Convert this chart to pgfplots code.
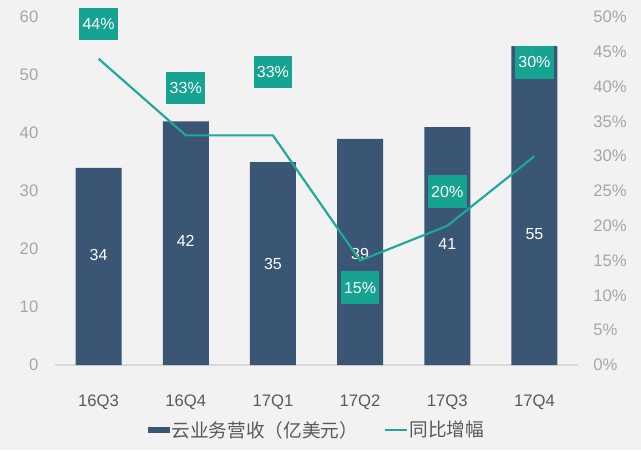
\documentclass[border=0pt]{standalone}
\usepackage{fontspec}
\setmainfont{Liberation Sans}
\newfontfamily\cjk{Noto Sans CJK SC}
\usepackage{pgfplots}
\pgfplotsset{compat=1.18}
\usetikzlibrary{backgrounds,calc}
\definecolor{barc}{HTML}{3A5674}
\definecolor{linec}{HTML}{1DA899}
\definecolor{boxc}{HTML}{17A392}
\definecolor{bgc}{HTML}{F2F2F2}
\definecolor{tickc}{HTML}{A6A6A6}
\definecolor{labc}{HTML}{595959}
\definecolor{basec}{HTML}{D9D9D9}

\pgfplotsset{base/.style={scale only axis, width=392.25pt, height=261pt,
  xmin=-0.5, xmax=5.5, /pgf/number format/assume math mode=true,
  major tick length=0pt, clip=false}}

\begin{document}
\begin{tikzpicture}
\begin{axis}[base, name=main, ymin=0, ymax=60, ytick={0,10,...,60},
  axis x line*=bottom, axis y line*=left,
  x axis line style={draw=basec, line width=0.8pt, -},
  y axis line style={draw=none},
  xtick={0,...,5}, xticklabels={16Q3,16Q4,17Q1,17Q2,17Q3,17Q4},
  xticklabel style={font=\fontsize{12.5}{14}\selectfont, text=labc, anchor=base, yshift=-31pt},
  yticklabel style={font=\fontsize{12.5}{14}\selectfont, text=tickc, xshift=-9pt},
  legend columns=2,
  legend style={at={(0.5,-0.187)}, anchor=center, draw=none, fill=none,
    font=\fontsize{14}{16}\selectfont, text=labc,
    /tikz/every odd column/.style={column sep=0pt},
    /tikz/every even column/.style={column sep=18pt},
    nodes={inner sep=1pt}}]
\addplot[ybar, bar width=34.5pt, bar shift=0pt, fill=barc, draw=none,
  legend image code/.code={\fill[barc] (0pt,-2.5pt) rectangle (17pt,2.5pt);}]
  coordinates {(0,34) (1,42) (2,35) (3,39) (4,41) (5,55)};
\addlegendentry{\cjk 云业务营收（亿美元）}
\addlegendimage{legend image code/.code={\draw[linec,line width=1.5pt] (0pt,0pt) -- (17pt,0pt);}}
\addlegendentry{\cjk 同比增幅}
% value labels inside the bars
\addplot[draw=none, nodes near coords, point meta=explicit symbolic,
  nodes near coords style={anchor=center, text=white, font=\fontsize{12}{14}\selectfont}]
  coordinates {(0,19)[34] (1,21.4)[42] (2,17.4)[35] (3,19.1)[39] (4,20.9)[41] (5,22.6)[55]};
\end{axis}

\begin{axis}[base, ymin=0, ymax=50, ytick={0,5,...,50},
  axis y line*=right, axis x line=none, y axis line style={draw=none},
  yticklabel={\pgfmathprintnumber{\tick}\%},
  yticklabel style={font=\fontsize{12.5}{14}\selectfont, text=tickc, anchor=west, xshift=8pt}]
\addplot[linec, line width=1.6pt] coordinates {(0,44) (1,33) (2,33) (3,15) (4,20) (5,30)};
% growth labels in boxes
\addplot[draw=none, nodes near coords, point meta=explicit symbolic,
  nodes near coords style={anchor=center, fill=boxc, text=white,
    font=\fontsize{12}{14}\selectfont, minimum width=29pt, minimum height=24.5pt, inner sep=0pt}]
  coordinates {(0,49.0)[44\%] (1,39.8)[33\%] (2,42.1)[33\%] (3,11.1)[15\%] (4,24.9)[20\%] (5,43.5)[30\%]};
\end{axis}

\begin{scope}[on background layer]
\fill[bgc] ($(main.south west)+(-41.25pt,-63.75pt)$) rectangle ($(main.north east)+(47.25pt,12.75pt)$);
\end{scope}
\pgfresetboundingbox
\path[use as bounding box] ($(main.south west)+(-41.25pt,-63.75pt)$) rectangle ($(main.north east)+(47.25pt,12.75pt)$);
\end{tikzpicture}
\end{document}
